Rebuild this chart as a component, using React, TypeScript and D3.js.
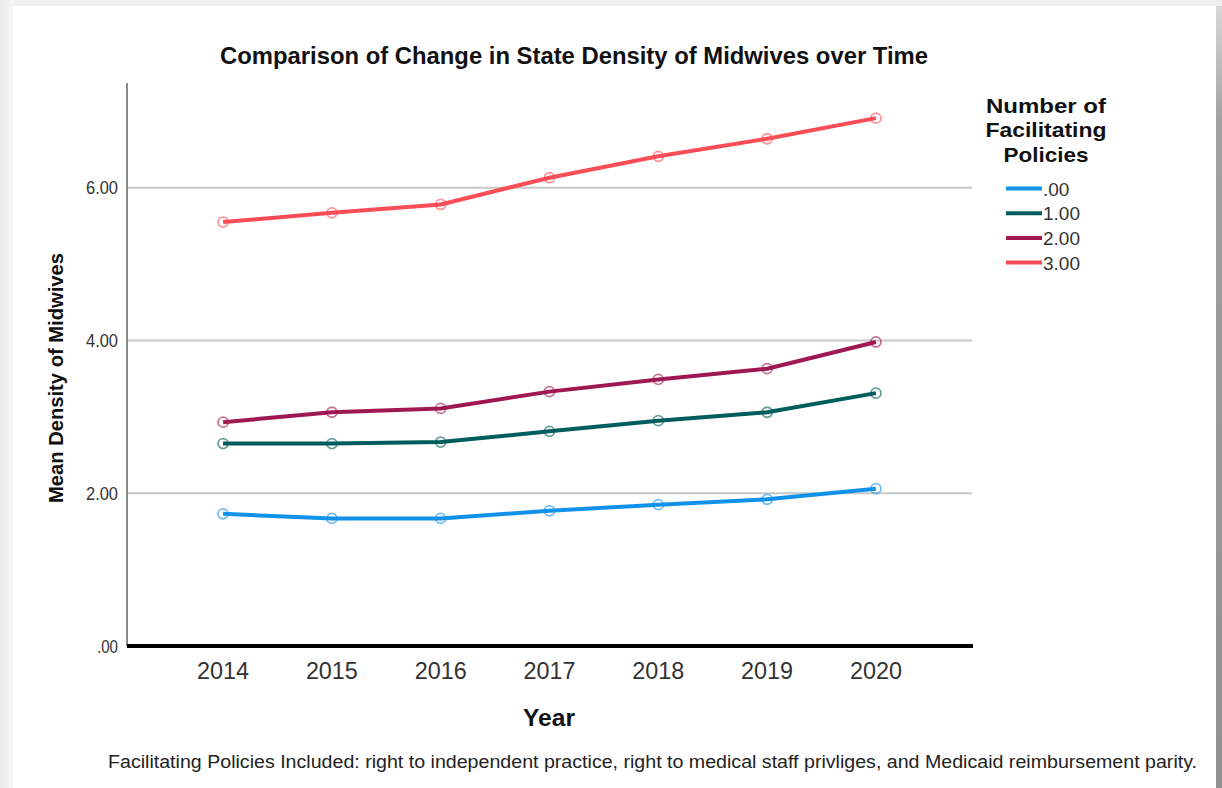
import React from "react";
import * as d3 from "d3";

const years = ["2014", "2015", "2016", "2017", "2018", "2019", "2020"];
const seriesNames = [".00", "1.00", "2.00", "3.00"];
const seriesColors = ["#1192e8", "#005d5d", "#9f1853", "#fa4d56"];
const policies0 = [1.73, 1.67, 1.67, 1.77, 1.85, 1.92, 2.06];
const policies1 = [2.65, 2.65, 2.67, 2.81, 2.95, 3.06, 3.31];
const policies2 = [2.93, 3.06, 3.11, 3.33, 3.49, 3.63, 3.98];
const policies3 = [5.55, 5.67, 5.78, 6.13, 6.41, 6.64, 6.91];
const yTicks = [0, 2, 4, 6];
const yTickLabels = [".00", "2.00", "4.00", "6.00"];

const allSeries = [policies0, policies1, policies2, policies3];

const FONT = "'Liberation Sans', Arial, Helvetica, sans-serif";

export default function App() {
  const W = 1222;
  const H = 788;
  const x = d3.scalePoint<string>().domain(years).range([127, 972]).padding(0.883);
  const y = d3.scaleLinear().domain([0, 7.37]).range([646, 83]);
  const line = d3
    .line<number>()
    .x((_, i) => x(years[i]) as number)
    .y((d) => y(d));

  return (
    <div style={{ position: "fixed", left: 0, top: 0, width: W, height: H }}>
      <svg width={W} height={H} style={{ display: "block" }} fontFamily={FONT}>
        <defs>
          <linearGradient id="leftShade" x1="0" x2="1" y1="0" y2="0">
            <stop offset="0" stopColor="#e9e9e9" />
            <stop offset="1" stopColor="#f6f6f6" />
          </linearGradient>
          <linearGradient id="rightShade" x1="0" x2="0" y1="0" y2="1">
            <stop offset="0" stopColor="#d8d8d8" />
            <stop offset="0.15" stopColor="#a0a0a0" />
            <stop offset="1" stopColor="#909090" />
          </linearGradient>
        </defs>
        {/* page frame */}
        <rect x={0} y={0} width={W} height={H} fill="#f0f0f0" />
        <rect x={0} y={0} width={13} height={H} fill="url(#leftShade)" />
        <rect x={13} y={6} width={1203} height={H - 6} fill="#ffffff" />
        <rect x={1216} y={6} width={6} height={H - 6} fill="url(#rightShade)" />

        {/* title */}
        <text
          x={574}
          y={64}
          textAnchor="middle"
          fontSize={23}
          fontWeight="bold"
          fill="#111"
          textLength={708}
          lengthAdjust="spacingAndGlyphs"
        >
          Comparison of Change in State Density of Midwives over Time
        </text>

        {/* gridlines */}
        {yTicks
          .filter((t) => t > 0)
          .map((t) => (
            <line key={t} x1={127} x2={972} y1={y(t)} y2={y(t)} stroke="#c8c8c8" strokeWidth={2} />
          ))}

        {/* y axis */}
        <line x1={127} x2={127} y1={83} y2={646} stroke="#8a8a8a" strokeWidth={2} />
        {yTicks.map((t, i) => (
          <text
            key={t}
            x={118}
            y={y(t) + 6.5}
            textAnchor="end"
            fontSize={18}
            fill="#333"
            textLength={i === 0 ? 21 : 32}
            lengthAdjust="spacingAndGlyphs"
          >
            {yTickLabels[i]}
          </text>
        ))}

        {/* x axis */}
        <line x1={127} x2={973} y1={646} y2={646} stroke="#000" strokeWidth={4} />
        {years.map((yr) => (
          <text
            key={yr}
            x={x(yr) as number}
            y={679}
            textAnchor="middle"
            fontSize={24.5}
            fill="#333"
            textLength={52}
            lengthAdjust="spacingAndGlyphs"
          >
            {yr}
          </text>
        ))}

        {/* axis titles */}
        <text
          x={549}
          y={726}
          textAnchor="middle"
          fontSize={23}
          fontWeight="bold"
          fill="#111"
          textLength={52}
          lengthAdjust="spacingAndGlyphs"
        >
          Year
        </text>
        <text
          transform={`translate(63,378) rotate(-90)`}
          textAnchor="middle"
          fontSize={21}
          fontWeight="bold"
          fill="#111"
          textLength={250}
          lengthAdjust="spacingAndGlyphs"
        >
          Mean Density of Midwives
        </text>

        {/* lines */}
        {allSeries.map((s, si) => (
          <g key={si}>
            <path d={line(s) || ""} fill="none" stroke={seriesColors[si]} strokeWidth={4} strokeLinejoin="round" />
            {s.map((v, i) => (
              <circle
                key={i}
                cx={x(years[i]) as number}
                cy={y(v)}
                r={5}
                fill="none"
                stroke={seriesColors[si]}
                strokeOpacity={0.6}
                strokeWidth={1.8}
              />
            ))}
          </g>
        ))}

        {/* legend */}
        <g fill="#111" fontWeight="bold" fontSize={21}>
          <text x={1046} y={113} textAnchor="middle" textLength={120} lengthAdjust="spacingAndGlyphs">
            Number of
          </text>
          <text x={1046} y={137} textAnchor="middle" textLength={121} lengthAdjust="spacingAndGlyphs">
            Facilitating
          </text>
          <text x={1046} y={161.5} textAnchor="middle" textLength={85} lengthAdjust="spacingAndGlyphs">
            Policies
          </text>
        </g>
        {seriesNames.map((n, i) => (
          <g key={n}>
            <line
              x1={1006}
              x2={1042}
              y1={188.5 + i * 24.7}
              y2={188.5 + i * 24.7}
              stroke={seriesColors[i]}
              strokeWidth={4}
            />
            <text x={1043} y={195.5 + i * 24.7} fontSize={19} fill="#333">
              {n}
            </text>
          </g>
        ))}

        {/* footnote */}
        <text
          x={108}
          y={768}
          fontSize={17.5}
          fill="#222"
          textLength={1089}
          lengthAdjust="spacingAndGlyphs"
        >
          Facilitating Policies Included: right to independent practice, right to medical staff privliges, and Medicaid reimbursement parity.
        </text>
      </svg>
    </div>
  );
}
